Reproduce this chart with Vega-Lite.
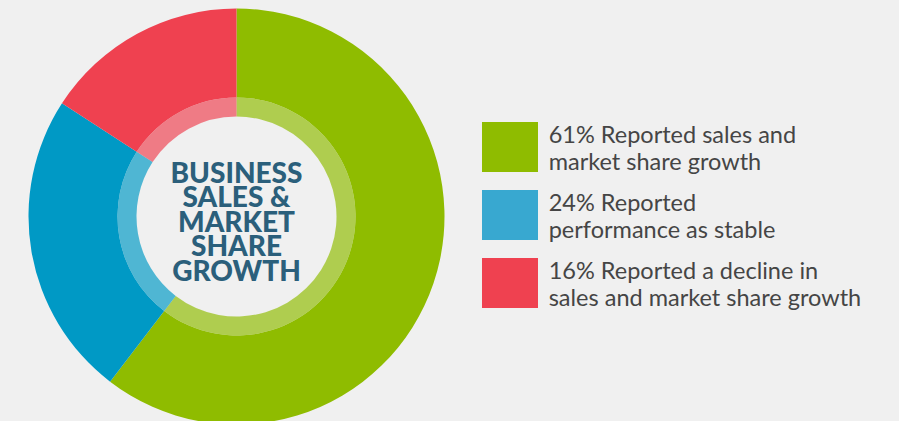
{
  "$schema": "https://vega.github.io/schema/vega-lite/v6.json",
  "background": "#f0f0f0",
  "padding": 0,
  "config": {"view": {"stroke": null}},
  "data": {
    "values": [
      {"k": 1, "cat": "growth", "value": 61, "label": "61% Reported sales and\nmarket share growth"},
      {"k": 2, "cat": "stable", "value": 24, "label": "24% Reported\nperformance as stable"},
      {"k": 3, "cat": "decline", "value": 16, "label": "16% Reported a decline in\nsales and market share growth"}
    ]
  },
  "spacing": 0,
  "resolve": {"scale": {"color": "independent", "y": "independent", "x": "independent"}},
  "hconcat": [
    {
      "width": 473,
      "height": 421,
      "layer": [
        {
          "mark": {"type": "arc", "outerRadius": 208, "innerRadius": 119},
          "encoding": {
            "theta": {"field": "value", "type": "quantitative", "stack": true},
            "order": {"field": "k", "type": "quantitative"},
            "y": {"datum": 0, "type": "quantitative", "axis": null, "scale": {"domain": [-1, 1.0588], "nice": false, "zero": false}},
            "color": {"field": "cat", "type": "nominal", "legend": null,
              "scale": {"domain": ["growth", "stable", "decline"], "range": ["#8fbc00", "#0099c5", "#ef4150"]}}
          }
        },
        {
          "mark": {"type": "arc", "outerRadius": 119, "innerRadius": 100, "opacity": 0.67},
          "encoding": {
            "theta": {"field": "value", "type": "quantitative", "stack": true},
            "order": {"field": "k", "type": "quantitative"},
            "y": {"datum": 0, "type": "quantitative", "axis": null, "scale": {"domain": [-1, 1.0588], "nice": false, "zero": false}},
            "color": {"field": "cat", "type": "nominal", "legend": null,
              "scale": {"domain": ["growth", "stable", "decline"], "range": ["#8fbc00", "#0099c5", "#ef4150"]}}
          }
        },
        {
          "data": {"values": [{"t": "BUSINESS\nSALES &\nMARKET\nSHARE\nGROWTH"}]},
          "mark": {"type": "text", "font": "Lato", "fontWeight": 900, "fontSize": 28, "lineHeight": 24.5, "lineBreak": "\n", "align": "center", "baseline": "middle", "dy": -42, "color": "#2b5f7b"},
          "encoding": {
            "text": {"field": "t"},
            "y": {"datum": 0, "type": "quantitative", "axis": null, "scale": {"domain": [-1, 1.0588], "nice": false, "zero": false}}
          }
        }
      ]
    },
    {
      "width": 426,
      "height": 421,
      "layer": [
        {
          "mark": {"type": "point", "shape": "M-1,-0.893H1V0.893H-1Z", "size": 3136, "filled": true, "opacity": 1, "strokeWidth": 0},
          "encoding": {
            "x": {"datum": 0, "type": "quantitative", "axis": null, "scale": {"domain": [-0.1, 1.0514], "nice": false, "zero": false}},
            "y": {"field": "k", "type": "quantitative", "axis": null, "scale": {"domain": [-1.1618, 5.0294], "reverse": true, "nice": false, "zero": false}},
            "color": {"field": "cat", "type": "nominal", "legend": null,
              "scale": {"domain": ["growth", "stable", "decline"], "range": ["#8fbc00", "#38a8d0", "#ef4150"]}}
          }
        },
        {
          "mark": {"type": "text", "font": "Lato", "fontSize": 23.5, "lineHeight": 26.7, "lineBreak": "\n", "align": "left", "baseline": "middle", "dx": 38.7, "dy": -11, "color": "#454545"},
          "encoding": {
            "text": {"field": "label"},
            "x": {"datum": 0, "type": "quantitative", "axis": null, "scale": {"domain": [-0.1, 1.0514], "nice": false, "zero": false}},
            "y": {"field": "k", "type": "quantitative", "axis": null, "scale": {"domain": [-1.1618, 5.0294], "reverse": true, "nice": false, "zero": false}}
          }
        }
      ]
    }
  ]
}
